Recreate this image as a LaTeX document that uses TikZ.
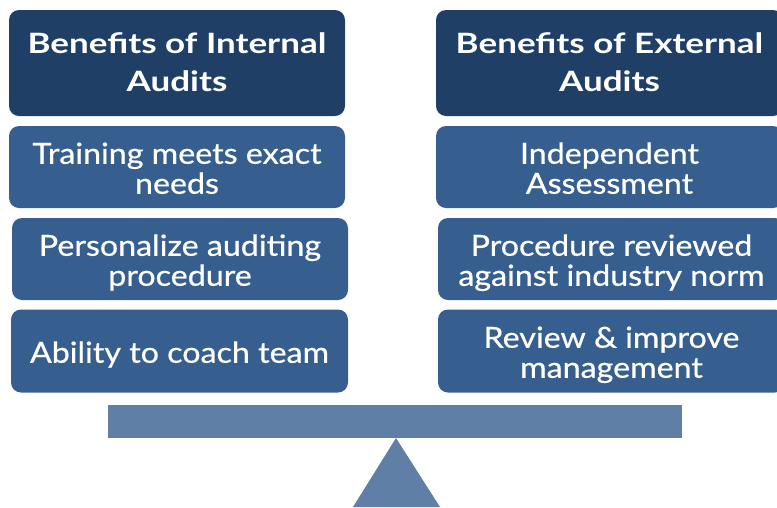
\documentclass[tikz,border=0pt]{standalone}
\usepackage{fontspec}
\setmainfont{Lato}
\newfontfamily\hdrfont{Lato}[FakeStretch=1.25]
\newfontfamily\itmfont{Lato}[FakeStretch=1.11,FakeBold=0.6]
\definecolor{hdr}{HTML}{1F3F66}
\definecolor{itm}{HTML}{365F8F}
\definecolor{beam}{HTML}{5F7FA6}
% struts: fix the top (height) and bottom (depth) of each text block
\newcommand\itop{\rule{0pt}{31.5pt}}
\newcommand\ibot{\rule[-8pt]{0pt}{8pt}}
\newcommand\htop{\rule{0pt}{26pt}}
\newcommand\hbot{\rule[-8pt]{0pt}{8pt}}
\tikzset{
  card/.style={rounded corners=10pt, inner sep=0pt, align=center, text=white},
  hdrbox/.style={card, fill=hdr, font=\hdrfont\fontsize{28}{38}\selectfont\bfseries},
  itmbox/.style={card, fill=itm, font=\itmfont\fontsize{29}{30}\selectfont},
}
\begin{document}
\begin{tikzpicture}[x=1pt,y=-1pt]
\useasboundingbox (0,0) rectangle (777,507);
\clip (0,0) rectangle (777,507);
% left column
\node[hdrbox, minimum width=336pt, minimum height=106pt] (lh) at (177,63) {\htop Benefits of Internal\\Audits\hbot};
\node[itmbox, minimum width=336pt, minimum height=82pt] (l1) at (177,167) {\itop Training meets exact\\needs\ibot};
\node[itmbox, minimum width=336pt, minimum height=82pt] (l2) at (180,259) {\itop Personalize auditing\\procedure\ibot};
\node[itmbox, minimum width=337pt, minimum height=83pt] (l3) at (179.5,351) {\itop Ability to coach team\ibot};
% right column
\node[hdrbox, minimum width=347pt, minimum height=106pt] (rh) at (609.5,63) {\htop Benefits of External\\Audits\hbot};
\node[itmbox, minimum width=347pt, minimum height=82pt] (r1) at (609.5,167) {\itop Independent\\Assessment\ibot};
\node[itmbox, minimum width=347pt, minimum height=82pt] (r2) at (611.5,259) {\itop Procedure reviewed\\against industry norm\ibot};
\node[itmbox, minimum width=347pt, minimum height=83pt] (r3) at (611.5,351) {\itop Review \& improve\\management\ibot};
% balance
\fill[beam] (108,405) rectangle (682,438);
\fill[beam] (396,438) -- (440,507) -- (353,507) -- cycle;
\end{tikzpicture}
\end{document}
